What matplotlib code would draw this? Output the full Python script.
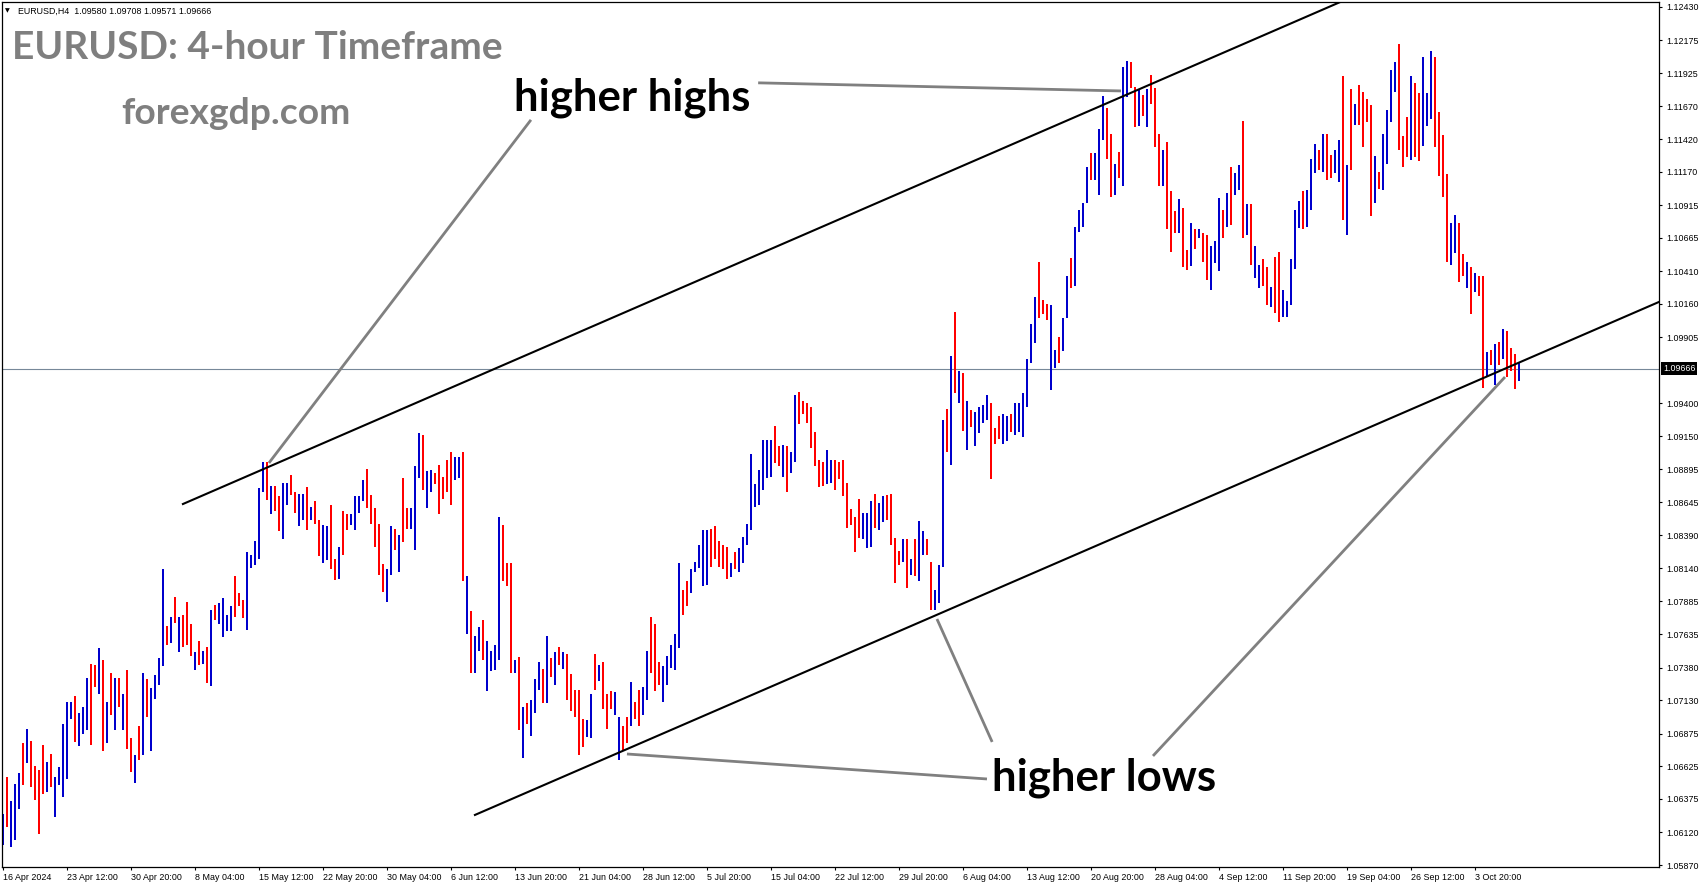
import numpy as np
import matplotlib
matplotlib.use('Agg')
import matplotlib.pyplot as plt
from matplotlib.transforms import blended_transform_factory

# EURUSD H4 bars, values in pips above 1.0000 (1 bar here = 2 bars of the original)
highs = [
    626, 654, 636, 649, 657, 680, 691, 682, 663, 660,
    679, 666, 672, 654, 662, 695, 712, 712, 716, 703,
    708, 730, 741, 740, 753, 744, 712, 734, 730, 730,
    718, 736, 684, 671, 693, 734, 729, 722, 732, 745,
    813, 770, 777, 792, 777, 778, 788, 771, 750, 758,
    751, 754, 782, 786, 787, 791, 778, 785, 808, 795,
    790, 826, 824, 835, 875, 895, 895, 877, 877, 869,
    879, 879, 885, 872, 871, 871, 876, 861, 865, 851,
    847, 846, 862, 821, 830, 858, 855, 855, 869, 869,
    881, 890, 870, 860, 848, 817, 813, 846, 844, 839,
    883, 860, 860, 892, 917, 916, 888, 889, 887, 893,
    884, 897, 903, 899, 899, 903, 808, 781, 762, 769,
    774, 758, 751, 755, 853, 847, 818, 818, 744, 746,
    708, 711, 713, 729, 742, 737, 762, 745, 750, 754,
    750, 748, 733, 721, 721, 699, 698, 718, 748, 740,
    742, 718, 720, 719, 700, 693, 700, 727, 712, 721,
    723, 751, 777, 771, 742, 739, 747, 755, 764, 818,
    797, 804, 813, 819, 832, 843, 843, 844, 846, 835,
    832, 830, 818, 826, 829, 838, 848, 901, 878, 889,
    912, 912, 912, 923, 907, 908, 907, 903, 946, 949,
    942, 940, 937, 918, 897, 895, 904, 897, 897, 895,
    897, 879, 859, 853, 867, 856, 856, 865, 871, 864,
    869, 870, 871, 837, 827, 836, 836, 821, 836, 850,
    842, 836, 819, 797, 816, 927, 936, 976, 1010, 965,
    963, 942, 935, 933, 937, 939, 946, 940, 921, 930,
    932, 930, 932, 940, 940, 948, 974, 1001, 1021, 1048,
    1019, 1016, 1015, 981, 991, 1005, 1037, 1051, 1075, 1088,
    1093, 1121, 1131, 1131, 1150, 1175, 1166, 1146, 1123, 1132,
    1197, 1202, 1201, 1182, 1180, 1176, 1180, 1191, 1181, 1146,
    1134, 1140, 1102, 1087, 1096, 1089, 1057, 1078, 1073, 1073,
    1070, 1069, 1060, 1064, 1097, 1088, 1101, 1121, 1116, 1122,
    1156, 1092, 1092, 1060, 1046, 1050, 1044, 1029, 1052, 1056,
    1027, 1018, 1050, 1088, 1095, 1102, 1103, 1127, 1138, 1134,
    1146, 1146, 1130, 1134, 1141, 1190, 1122, 1180, 1169, 1183,
    1178, 1173, 1168, 1129, 1117, 1146, 1164, 1195, 1201, 1215,
    1144, 1159, 1190, 1185, 1177, 1205, 1177, 1209, 1205, 1163,
    1145, 1115, 1078, 1084, 1078, 1054, 1048, 1044, 1040, 1037,
    1037, 979, 981, 985, 987, 997, 995, 982, 978, 971,
]
lows = [
    602, 616, 601, 606, 630, 648, 665, 647, 637, 611,
    641, 643, 647, 624, 648, 639, 653, 699, 681, 678,
    687, 690, 679, 723, 718, 674, 680, 702, 690, 708,
    690, 676, 658, 650, 667, 671, 700, 674, 714, 725,
    739, 755, 757, 772, 750, 754, 755, 747, 736, 740,
    741, 726, 724, 774, 771, 761, 766, 766, 777, 785,
    776, 767, 814, 816, 821, 872, 866, 855, 858, 842,
    836, 862, 870, 856, 846, 851, 843, 851, 848, 823,
    818, 820, 813, 805, 806, 824, 843, 847, 843, 856,
    865, 860, 848, 830, 809, 796, 788, 809, 828, 811,
    834, 844, 844, 828, 883, 874, 860, 872, 878, 855,
    867, 872, 862, 881, 883, 804, 764, 734, 734, 751,
    744, 720, 735, 736, 744, 804, 800, 734, 734, 690,
    669, 695, 686, 703, 721, 711, 711, 731, 725, 740,
    737, 713, 705, 700, 671, 677, 685, 684, 721, 728,
    706, 691, 706, 702, 667, 675, 680, 693, 699, 693,
    702, 713, 734, 720, 725, 712, 725, 738, 736, 753,
    778, 785, 795, 811, 814, 800, 801, 815, 821, 815,
    813, 806, 807, 813, 811, 818, 832, 843, 861, 862,
    874, 883, 884, 894, 892, 884, 872, 887, 895, 924,
    932, 925, 906, 892, 876, 877, 878, 879, 874, 882,
    869, 845, 847, 826, 837, 836, 829, 830, 845, 843,
    849, 851, 832, 803, 816, 819, 799, 809, 808, 804,
    824, 824, 782, 782, 787, 815, 903, 893, 948, 940,
    919, 904, 922, 907, 917, 925, 927, 882, 909, 913,
    909, 911, 918, 916, 918, 914, 937, 971, 986, 1005,
    1008, 1004, 950, 967, 971, 980, 1005, 1028, 1030, 1071,
    1075, 1093, 1111, 1111, 1099, 1141, 1127, 1098, 1099, 1112,
    1106, 1174, 1181, 1151, 1152, 1160, 1151, 1169, 1136, 1106,
    1106, 1073, 1056, 1070, 1070, 1044, 1042, 1045, 1058, 1066,
    1048, 1034, 1027, 1047, 1041, 1066, 1075, 1076, 1099, 1103,
    1066, 1069, 1046, 1036, 1028, 1030, 1015, 1014, 1009, 1002,
    1006, 1006, 1015, 1043, 1074, 1073, 1075, 1088, 1116, 1118,
    1117, 1111, 1112, 1116, 1109, 1080, 1069, 1118, 1153, 1153,
    1136, 1155, 1083, 1093, 1104, 1103, 1123, 1155, 1178, 1134,
    1121, 1128, 1126, 1128, 1125, 1137, 1152, 1157, 1136, 1114,
    1098, 1048, 1046, 1055, 1033, 1037, 1028, 1008, 1025, 1022,
    952, 960, 969, 954, 969, 974, 960, 965, 951, 957,
]
# B = up bar (blue), R = down bar (red)
bar_colors = (
    "BRBBBRBRRR" "RBRBBBBBRB" "BBRRBRBRBR" "BRRBRBRBBB" "BRBRBRRRBR"
    "BRBRBBBBRR" "RBBBBBRBRR" "BBRRBBRBRR" "BBRRBRRBBB" "BRRRRRBBRB"
    "RRBBBRBBRR" "RRRBBRBRBB" "RBBBBRRRBR" "BRBBBRBRBR" "BRRRRRBBRB"
    "RRRBBRRBRR" "BBRRRBBBBB" "RRBBBBBRRR" "RRBRBBBBBB" "BBBRRBRBBR"
    "RRRRRRBBRR" "RRRRRBBBRB" "BRRRRBRBRB" "BRRBBBRBRB" "RBRBBBBRRR"
    "BBRBBBBBBR" "RRBBRBBRBB" "BBRBBBRRBR" "BBRRBRBRRR" "BRRRBRRBRB"
    "RRBBBRBRBB" "RBRBBRRBRR" "BBBBBRBBBR" "BRRBBRBRBR" "RRRBRBBBBR"
    "RRBRRBBBRR" "RRBBRRBRBR" "RBRBRBRRRB"
)

last_price = 1.09666
header = "EURUSD,H4  1.09580 1.09708 1.09571 1.09666"

ytick_labels = ["1.12430", "1.12175", "1.11925", "1.11670", "1.11420", "1.11170",
                "1.10915", "1.10665", "1.10410", "1.10160", "1.09905", "1.09400",
                "1.09150", "1.08895", "1.08645", "1.08390", "1.08140", "1.07885",
                "1.07635", "1.07380", "1.07130", "1.06875", "1.06625", "1.06375",
                "1.06120", "1.05870"]
xtick_labels = ["16 Apr 2024", "23 Apr 12:00", "30 Apr 20:00", "8 May 04:00",
                "15 May 12:00", "22 May 20:00", "30 May 04:00", "6 Jun 12:00",
                "13 Jun 20:00", "21 Jun 04:00", "28 Jun 12:00", "5 Jul 20:00",
                "15 Jul 04:00", "22 Jul 12:00", "29 Jul 20:00", "6 Aug 04:00",
                "13 Aug 12:00", "20 Aug 20:00", "28 Aug 04:00", "4 Sep 12:00",
                "11 Sep 20:00", "19 Sep 04:00", "26 Sep 12:00", "3 Oct 20:00"]
xtick_bars = [16 * i for i in range(len(xtick_labels))]

# trend lines (bar index, price)
upper_x, upper_y = [44.9, 334.3], [1.0863, 1.12469]
lower_x, lower_y = [117.9, 413.9], [1.06253, 1.10175]
# pointer lines
pointers = [
    ([131.9, 66.4], [1.11567, 1.08944]),
    ([188.7, 279.4], [1.11850, 1.11788]),
    ([245.9, 155.9], [1.06528, 1.06719]),
    ([247.2, 233.4], [1.06811, 1.07751]),
    ([287.4, 375.4], [1.06704, 1.09601]),
]

plt.rcParams['font.family'] = ['Liberation Sans', 'DejaVu Sans']

W, H = 1705, 888
fig = plt.figure(figsize=(W / 100, H / 100), dpi=100)
ax = fig.add_axes([2 / W, 21 / H, 1657 / W, 865 / H])

x = np.arange(len(highs))
hi = 1 + np.array(highs) / 10000
lo = 1 + np.array(lows) / 10000
cmap = {'B': '#0000cc', 'R': '#ff0000'}
ax.vlines(x, lo, hi, colors=[cmap[c] for c in bar_colors], linewidth=1.44,
          antialiased=False)

ax.axhline(last_price, color='#778899', lw=0.8, zorder=1)
ax.plot(upper_x, upper_y, color='black', lw=1.5)
ax.plot(lower_x, lower_y, color='black', lw=1.5)
for px_, py_ in pointers:
    ax.plot(px_, py_, color='#808080', lw=2.0, solid_capstyle='butt')

ax.set_xlim(-0.33, 413.9)
ax.set_ylim(1.05855, 1.12468)

ax.yaxis.tick_right()
ax.set_yticks([float(v) for v in ytick_labels])
ax.set_yticklabels(ytick_labels)
ax.set_xticks(xtick_bars)
ax.set_xticklabels(xtick_labels, ha='left')
ax.tick_params(axis='y', length=2.5, width=0.8, pad=3, labelsize=6.4)
ax.tick_params(axis='x', length=2.5, width=0.8, pad=2, labelsize=6.4)
for s in ax.spines.values():
    s.set_linewidth(0.9)
    s.set_color('black')

trans = blended_transform_factory(ax.transAxes, ax.transData)
ax.text(1.0 + 4 / 1657, last_price, "1.09666", transform=trans, color='white',
        fontsize=6.4, va='center', ha='left',
        bbox=dict(fc='black', ec='none', pad=1.2))

fig.text(5 / W, 1 - 11 / H, "\u25bc", fontsize=4.5, va='center',
         family=['DejaVu Sans'])
fig.text(18 / W, 1 - 11 / H, header, fontsize=6.4, va='center')

renderer = fig.canvas.get_renderer()


def fit(t, width_px):
    w = t.get_window_extent(renderer).width
    t.set_fontsize(t.get_fontsize() * width_px / w)


t1 = fig.text(12 / W, 1 - 59 / H, "EURUSD: 4-hour Timeframe", fontsize=22,
              fontweight='bold', color='#7f7f7f', family='Lato', va='baseline')
fit(t1, 491)
t2 = fig.text(121 / W, 1 - 124 / H, "forexgdp.com", fontsize=22,
              fontweight='bold', color='#7f7f7f', family='Lato', va='baseline')
fit(t2, 229)
t3 = fig.text(514 / W, 1 - 111 / H, "higher highs", fontsize=28,
              fontweight='bold', color='black', family='Lato', va='baseline')
fit(t3, 236)
t4 = fig.text(992 / W, 1 - 790 / H, "higher lows", fontsize=28,
              fontweight='bold', color='black', family='Lato', va='baseline')
fit(t4, 224)

fig.savefig('out.png', dpi=100, facecolor='white')
